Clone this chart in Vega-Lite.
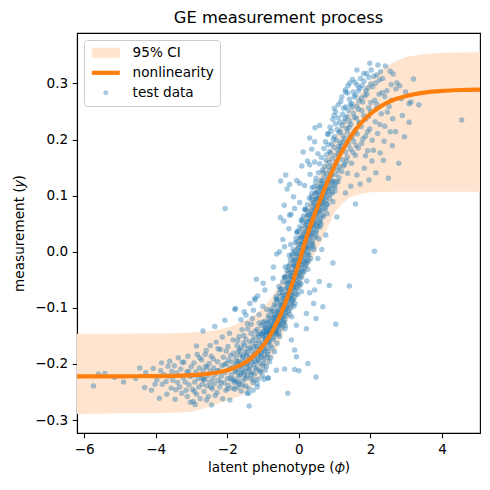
{
  "$schema": "https://vega.github.io/schema/vega-lite/v6.json",
  "width": 403,
  "height": 400,
  "autosize": {"type": "none"},
  "padding": {"left": 77, "top": 33, "right": 10, "bottom": 57},
  "title": {"text": "GE measurement process", "font": "DejaVu Sans", "fontSize": 16.3, "fontWeight": "normal", "color": "black", "anchor": "middle", "offset": 7},
  "datasets": {
    "fit": [
      {"p": -6.2, "y": -0.222, "lo": -0.289, "hi": -0.146},
      {"p": -5.5, "y": -0.222, "lo": -0.2885, "hi": -0.146},
      {"p": -5.0, "y": -0.2219, "lo": -0.288, "hi": -0.1459},
      {"p": -4.5, "y": -0.2218, "lo": -0.2878, "hi": -0.1458},
      {"p": -4.0, "y": -0.2216, "lo": -0.2876, "hi": -0.1456},
      {"p": -3.5, "y": -0.2211, "lo": -0.2871, "hi": -0.1451},
      {"p": -3.0, "y": -0.22, "lo": -0.285, "hi": -0.144},
      {"p": -2.75, "y": -0.2189, "lo": -0.2809, "hi": -0.1429},
      {"p": -2.5, "y": -0.2173, "lo": -0.2753, "hi": -0.1413},
      {"p": -2.25, "y": -0.2148, "lo": -0.2708, "hi": -0.1388},
      {"p": -2.0, "y": -0.2111, "lo": -0.2651, "hi": -0.1351},
      {"p": -1.8, "y": -0.2068, "lo": -0.2608, "hi": -0.1308},
      {"p": -1.6, "y": -0.2009, "lo": -0.2559, "hi": -0.1249},
      {"p": -1.4, "y": -0.1928, "lo": -0.2478, "hi": -0.1188},
      {"p": -1.2, "y": -0.1819, "lo": -0.2349, "hi": -0.1109},
      {"p": -1.0, "y": -0.1674, "lo": -0.2174, "hi": -0.0994},
      {"p": -0.8, "y": -0.1484, "lo": -0.1964, "hi": -0.0844},
      {"p": -0.6, "y": -0.1243, "lo": -0.1703, "hi": -0.0643},
      {"p": -0.4, "y": -0.0946, "lo": -0.1396, "hi": -0.0386},
      {"p": -0.2, "y": -0.0594, "lo": -0.1054, "hi": -0.0064},
      {"p": 0.0, "y": -0.0196, "lo": -0.0696, "hi": 0.0304},
      {"p": 0.2, "y": 0.0231, "lo": -0.0349, "hi": 0.0711},
      {"p": 0.4, "y": 0.0599, "lo": -0.0081, "hi": 0.1059},
      {"p": 0.6, "y": 0.0934, "lo": 0.0154, "hi": 0.1394},
      {"p": 0.8, "y": 0.1249, "lo": 0.0429, "hi": 0.1719},
      {"p": 1.0, "y": 0.1536, "lo": 0.0706, "hi": 0.2016},
      {"p": 1.2, "y": 0.1788, "lo": 0.085, "hi": 0.2288},
      {"p": 1.4, "y": 0.2006, "lo": 0.096, "hi": 0.2516},
      {"p": 1.6, "y": 0.2188, "lo": 0.101, "hi": 0.2718},
      {"p": 1.8, "y": 0.2338, "lo": 0.104, "hi": 0.2898},
      {"p": 2.0, "y": 0.2459, "lo": 0.106, "hi": 0.3069},
      {"p": 2.25, "y": 0.2577, "lo": 0.1068, "hi": 0.3217},
      {"p": 2.5, "y": 0.2666, "lo": 0.107, "hi": 0.3326},
      {"p": 2.75, "y": 0.2731, "lo": 0.107, "hi": 0.3411},
      {"p": 3.0, "y": 0.2778, "lo": 0.107, "hi": 0.3478},
      {"p": 3.5, "y": 0.2837, "lo": 0.107, "hi": 0.3527},
      {"p": 4.0, "y": 0.2868, "lo": 0.107, "hi": 0.3548},
      {"p": 4.5, "y": 0.2884, "lo": 0.107, "hi": 0.3554},
      {"p": 5.06, "y": 0.2892, "lo": 0.107, "hi": 0.3562}
    ],
    "pts": [
      {"p":-5.74,"m":-0.239},{"p":-5.60,"m":-0.218},{"p":-5.42,"m":-0.217},{"p":-4.90,"m":-0.232},{"p":-4.31,"m":-0.242},{"p":-4.28,"m":-0.215},{"p":-4.07,"m":-0.208},{"p":-3.97,"m":-0.228},{"p":-3.90,"m":-0.261},{"p":-3.82,"m":-0.236},
      {"p":-3.76,"m":-0.219},{"p":-3.69,"m":-0.254},{"p":-3.66,"m":-0.204},{"p":-3.61,"m":-0.195},{"p":-3.57,"m":-0.243},{"p":-3.52,"m":-0.229},{"p":-3.48,"m":-0.203},{"p":-3.46,"m":-0.263},{"p":-3.41,"m":-0.216},{"p":-3.37,"m":-0.189},
      {"p":-3.33,"m":-0.241},{"p":-3.30,"m":-0.209},{"p":-3.27,"m":-0.252},{"p":-3.24,"m":-0.224},{"p":-3.21,"m":-0.197},{"p":-3.18,"m":-0.232},{"p":-3.15,"m":-0.247},{"p":-3.13,"m":-0.214},{"p":-3.10,"m":-0.186},{"p":-3.07,"m":-0.237},
      {"p":-3.05,"m":-0.222},{"p":-3.03,"m":-0.268},{"p":-3.01,"m":-0.205},{"p":-4.56,"m":-0.226},{"p":-4.12,"m":-0.247},{"p":-3.86,"m":-0.212},{"p":-3.71,"m":-0.231},{"p":-3.55,"m":-0.213},{"p":-3.39,"m":-0.233},{"p":-3.12,"m":-0.258},
      {"p":-2.99,"m":-0.221},{"p":-2.97,"m":-0.245},{"p":-2.95,"m":-0.267},{"p":-2.93,"m":-0.198},{"p":-2.91,"m":-0.232},{"p":-2.90,"m":-0.272},{"p":-2.88,"m":-0.214},{"p":-2.86,"m":-0.254},{"p":-2.84,"m":-0.183},{"p":-2.82,"m":-0.226},
      {"p":-2.80,"m":-0.241},{"p":-2.78,"m":-0.207},{"p":-2.76,"m":-0.262},{"p":-2.74,"m":-0.219},{"p":-2.72,"m":-0.193},{"p":-2.70,"m":-0.236},{"p":-2.68,"m":-0.141},{"p":-2.67,"m":-0.212},{"p":-2.65,"m":-0.249},{"p":-2.63,"m":-0.228},
      {"p":-2.61,"m":-0.204},{"p":-2.59,"m":-0.176},{"p":-2.57,"m":-0.239},{"p":-2.55,"m":-0.221},{"p":-2.53,"m":-0.258},{"p":-2.51,"m":-0.199},{"p":-2.49,"m":-0.232},{"p":-2.47,"m":-0.213},{"p":-2.45,"m":-0.186},{"p":-2.44,"m":-0.273},
      {"p":-2.42,"m":-0.244},{"p":-2.40,"m":-0.226},{"p":-2.38,"m":-0.207},{"p":-2.36,"m":-0.235},{"p":-2.35,"m":-0.133},{"p":-2.33,"m":-0.218},{"p":-2.31,"m":-0.161},{"p":-2.29,"m":-0.251},{"p":-2.27,"m":-0.196},{"p":-2.25,"m":-0.229},
      {"p":-2.23,"m":-0.212},{"p":-2.21,"m":-0.241},{"p":-2.19,"m":-0.174},{"p":-2.17,"m":-0.222},{"p":-2.15,"m":-0.203},{"p":-2.13,"m":-0.262},{"p":-2.11,"m":-0.188},{"p":-2.09,"m":-0.234},{"p":-2.07,"m":-0.122},{"p":-2.06,"m":-0.215},
      {"p":-2.04,"m":-0.247},{"p":-2.02,"m":-0.199},{"p":-2.00,"m":-0.226},{"p":-1.98,"m":-0.169},{"p":-1.97,"m":-0.238},{"p":-1.95,"m":-0.208},{"p":-1.93,"m":-0.264},{"p":-1.91,"m":-0.185},{"p":-1.89,"m":-0.219},{"p":-1.87,"m":-0.196},
      {"p":-1.86,"m":-0.243},{"p":-1.84,"m":-0.157},{"p":-1.82,"m":-0.227},{"p":-1.81,"m":-0.205},{"p":-1.80,"m":-0.233},{"p":-2.62,"m":-0.183},{"p":-2.48,"m":-0.167},{"p":-2.26,"m":-0.173},{"p":-2.14,"m":-0.152},{"p":-2.58,"m":-0.264},
      {"p":-2.34,"m":-0.256},{"p":-2.03,"m":-0.177},{"p":-1.94,"m":-0.145},{"p":-2.86,"m":-0.168},{"p":-2.71,"m":-0.226},
      {"p":-1.79,"m":-0.103},{"p":-1.78,"m":-0.214},{"p":-1.77,"m":-0.101},{"p":-1.76,"m":-0.188},{"p":-1.75,"m":-0.231},{"p":-1.74,"m":-0.199},{"p":-1.73,"m":-0.167},{"p":-1.72,"m":-0.241},{"p":-1.71,"m":-0.209},{"p":-1.70,"m":-0.178},
      {"p":-1.69,"m":-0.222},{"p":-1.68,"m":-0.195},{"p":-1.67,"m":-0.151},{"p":-1.66,"m":-0.236},{"p":-1.65,"m":-0.204},{"p":-1.64,"m":-0.183},{"p":-1.63,"m":-0.216},{"p":-1.62,"m":-0.171},{"p":-1.61,"m":-0.248},{"p":-1.60,"m":-0.197},
      {"p":-1.59,"m":-0.139},{"p":-1.58,"m":-0.211},{"p":-1.57,"m":-0.186},{"p":-1.56,"m":-0.229},{"p":-1.55,"m":-0.163},{"p":-1.54,"m":-0.201},{"p":-1.53,"m":-0.107},{"p":-1.52,"m":-0.219},{"p":-1.51,"m":-0.178},{"p":-1.50,"m":-0.194},
      {"p":-1.49,"m":-0.239},{"p":-1.48,"m":-0.156},{"p":-1.47,"m":-0.207},{"p":-1.46,"m":-0.185},{"p":-1.45,"m":-0.222},{"p":-1.44,"m":-0.128},{"p":-1.43,"m":-0.198},{"p":-1.42,"m":-0.173},{"p":-1.41,"m":-0.213},{"p":-1.40,"m":-0.252},
      {"p":-1.39,"m":-0.275},{"p":-1.38,"m":-0.189},{"p":-1.37,"m":-0.161},{"p":-1.36,"m":-0.204},{"p":-1.35,"m":-0.226},{"p":-1.34,"m":-0.145},{"p":-1.33,"m":-0.192},{"p":-1.32,"m":-0.177},{"p":-1.31,"m":-0.215},{"p":-1.30,"m":-0.119},
      {"p":-1.29,"m":-0.186},{"p":-1.28,"m":-0.233},{"p":-1.27,"m":-0.169},{"p":-1.26,"m":-0.201},{"p":-1.25,"m":-0.152},{"p":-1.24,"m":-0.218},{"p":-1.23,"m":-0.086},{"p":-1.22,"m":-0.181},{"p":-1.21,"m":-0.196},{"p":-1.20,"m":-0.163},
      {"p":-1.19,"m":-0.049},{"p":-1.18,"m":-0.209},{"p":-1.17,"m":-0.174},{"p":-1.16,"m":-0.138},{"p":-1.15,"m":-0.191},{"p":-1.14,"m":-0.227},{"p":-1.13,"m":-0.158},{"p":-1.12,"m":-0.183},{"p":-1.11,"m":-0.112},{"p":-1.10,"m":-0.199},
      {"p":-1.09,"m":-0.171},{"p":-1.08,"m":-0.146},{"p":-1.07,"m":-0.214},{"p":-1.06,"m":-0.179},{"p":-1.05,"m":-0.131},{"p":-1.04,"m":-0.188},{"p":-1.03,"m":-0.162},{"p":-1.02,"m":-0.203},{"p":-1.01,"m":-0.097},{"p":-1.00,"m":-0.175},
      {"p":-0.99,"m":-0.149},{"p":-0.98,"m":-0.192},{"p":-0.97,"m":-0.166},{"p":-0.96,"m":-0.124},{"p":-0.95,"m":-0.183},{"p":-0.94,"m":-0.211},{"p":-0.93,"m":-0.155},{"p":-0.92,"m":-0.136},{"p":-0.91,"m":-0.172},{"p":-0.90,"m":-0.103},
      {"p":-0.89,"m":-0.189},{"p":-0.88,"m":-0.161},{"p":-0.87,"m":-0.143},{"p":-0.86,"m":-0.225},{"p":-0.85,"m":-0.177},{"p":-0.84,"m":-0.118},{"p":-0.83,"m":-0.158},{"p":-0.82,"m":-0.196},{"p":-0.81,"m":-0.139},{"p":-0.80,"m":-0.167},
      {"p":-1.62,"m":-0.121},{"p":-1.48,"m":-0.113},{"p":-1.37,"m":-0.092},{"p":-1.27,"m":-0.104},{"p":-1.15,"m":-0.079},{"p":-0.95,"m":-0.068},
      {"p":-1.13,"m":-0.147},{"p":-0.99,"m":-0.152},{"p":-0.91,"m":-0.146},{"p":-0.85,"m":-0.154},{"p":-0.78,"m":-0.149},{"p":-0.71,"m":-0.153},{"p":-0.63,"m":-0.148},{"p":-0.54,"m":-0.151},
      {"p":-0.98,"m":-0.142},{"p":-0.92,"m":-0.136},{"p":-0.83,"m":-0.144},{"p":-0.77,"m":-0.139},{"p":-0.70,"m":-0.143},{"p":-0.64,"m":-0.138},{"p":-0.56,"m":-0.141},{"p":-0.39,"m":-0.137},
      {"p":-1.00,"m":-0.126},{"p":-0.78,"m":-0.134},{"p":-0.71,"m":-0.129},{"p":-0.64,"m":-0.133},{"p":-0.58,"m":-0.128},{"p":-0.51,"m":-0.131},{"p":-0.42,"m":-0.127},{"p":-0.38,"m":-0.132},
      {"p":-0.80,"m":-0.124},{"p":-0.73,"m":-0.119},{"p":-0.67,"m":-0.123},{"p":-0.59,"m":-0.118},{"p":-0.54,"m":-0.121},{"p":-0.47,"m":-0.117},{"p":-0.40,"m":-0.122},{"p":-0.20,"m":-0.116},
      {"p":-0.79,"m":-0.107},{"p":-0.69,"m":-0.112},{"p":-0.62,"m":-0.106},{"p":-0.56,"m":-0.114},{"p":-0.49,"m":-0.109},{"p":-0.41,"m":-0.113},{"p":-0.36,"m":-0.108},{"p":-0.26,"m":-0.111},
      {"p":-0.77,"m":-0.102},{"p":-0.65,"m":-0.096},{"p":-0.52,"m":-0.104},{"p":-0.48,"m":-0.099},{"p":-0.39,"m":-0.103},{"p":-0.32,"m":-0.098},{"p":-0.24,"m":-0.101},{"p":-0.14,"m":-0.097},
      {"p":-0.63,"m":-0.086},{"p":-0.53,"m":-0.094},{"p":-0.51,"m":-0.089},{"p":-0.39,"m":-0.093},{"p":-0.31,"m":-0.088},{"p":-0.23,"m":-0.091},{"p":-0.17,"m":-0.087},{"p":-0.11,"m":-0.092},
      {"p":-0.63,"m":-0.084},{"p":-0.49,"m":-0.079},{"p":-0.41,"m":-0.083},{"p":-0.35,"m":-0.078},{"p":-0.28,"m":-0.081},{"p":-0.21,"m":-0.077},{"p":-0.13,"m":-0.082},{"p":-0.04,"m":-0.076},
      {"p":-0.52,"m":-0.067},{"p":-0.46,"m":-0.072},{"p":-0.37,"m":-0.066},{"p":-0.31,"m":-0.074},{"p":-0.24,"m":-0.069},{"p":-0.18,"m":-0.073},{"p":-0.10,"m":-0.068},{"p":0.07,"m":-0.071},
      {"p":-0.56,"m":-0.062},{"p":-0.34,"m":-0.056},{"p":-0.27,"m":-0.064},{"p":-0.20,"m":-0.059},{"p":-0.14,"m":-0.063},{"p":-0.07,"m":-0.058},{"p":0.02,"m":-0.061},{"p":0.06,"m":-0.057},
      {"p":-0.38,"m":-0.046},{"p":-0.31,"m":-0.054},{"p":-0.25,"m":-0.049},{"p":-0.17,"m":-0.053},{"p":-0.12,"m":-0.048},{"p":-0.05,"m":-0.051},{"p":0.02,"m":-0.047},{"p":0.22,"m":-0.052},
      {"p":-0.39,"m":-0.044},{"p":-0.29,"m":-0.039},{"p":-0.22,"m":-0.043},{"p":-0.16,"m":-0.038},{"p":-0.09,"m":-0.041},{"p":-0.01,"m":-0.037},{"p":0.04,"m":-0.042},{"p":0.14,"m":-0.036},
      {"p":-0.38,"m":-0.027},{"p":-0.26,"m":-0.032},{"p":-0.13,"m":-0.026},{"p":-0.09,"m":-0.034},{"p":0.00,"m":-0.029},{"p":0.07,"m":-0.033},{"p":0.15,"m":-0.028},{"p":0.25,"m":-0.031},
      {"p":-0.25,"m":-0.022},{"p":-0.15,"m":-0.016},{"p":-0.13,"m":-0.024},{"p":-0.01,"m":-0.019},{"p":0.07,"m":-0.023},{"p":0.15,"m":-0.018},{"p":0.21,"m":-0.021},{"p":0.27,"m":-0.017},
      {"p":-0.27,"m":-0.006},{"p":-0.13,"m":-0.014},{"p":-0.05,"m":-0.009},{"p":0.02,"m":-0.013},{"p":0.09,"m":-0.008},{"p":0.16,"m":-0.011},{"p":0.24,"m":-0.007},{"p":0.33,"m":-0.012},
      {"p":-0.17,"m":-0.004},{"p":-0.11,"m":0.001},{"p":-0.02,"m":-0.003},{"p":0.04,"m":0.002},{"p":0.11,"m":-0.001},{"p":0.17,"m":0.003},{"p":0.25,"m":-0.002},{"p":0.42,"m":0.004},
      {"p":-0.23,"m":0.013},{"p":-0.01,"m":0.008},{"p":0.07,"m":0.014},{"p":0.14,"m":0.006},{"p":0.20,"m":0.011},{"p":0.27,"m":0.007},{"p":0.36,"m":0.012},{"p":0.40,"m":0.009},
      {"p":-0.05,"m":0.018},{"p":0.03,"m":0.024},{"p":0.09,"m":0.016},{"p":0.17,"m":0.021},{"p":0.22,"m":0.017},{"p":0.29,"m":0.022},{"p":0.36,"m":0.019},{"p":0.56,"m":0.023},
      {"p":-0.06,"m":0.034},{"p":0.05,"m":0.026},{"p":0.12,"m":0.031},{"p":0.18,"m":0.027},{"p":0.25,"m":0.032},{"p":0.33,"m":0.029},{"p":0.38,"m":0.033},{"p":0.48,"m":0.028},
      {"p":-0.04,"m":0.036},{"p":0.08,"m":0.041},{"p":0.21,"m":0.037},{"p":0.25,"m":0.042},{"p":0.34,"m":0.039},{"p":0.41,"m":0.043},{"p":0.49,"m":0.038},{"p":0.59,"m":0.044},
      {"p":0.10,"m":0.053},{"p":0.20,"m":0.048},{"p":0.22,"m":0.054},{"p":0.34,"m":0.046},{"p":0.42,"m":0.051},{"p":0.50,"m":0.047},{"p":0.56,"m":0.052},{"p":0.62,"m":0.049},
      {"p":0.09,"m":0.058},{"p":0.23,"m":0.064},{"p":0.31,"m":0.056},{"p":0.37,"m":0.061},{"p":0.44,"m":0.057},{"p":0.51,"m":0.062},{"p":0.59,"m":0.059},{"p":0.68,"m":0.063},
      {"p":0.20,"m":0.074},{"p":0.26,"m":0.066},{"p":0.35,"m":0.071},{"p":0.41,"m":0.067},{"p":0.48,"m":0.072},{"p":0.54,"m":0.069},{"p":0.62,"m":0.073},{"p":0.79,"m":0.068},
      {"p":0.16,"m":0.076},{"p":0.38,"m":0.081},{"p":0.45,"m":0.077},{"p":0.52,"m":0.082},{"p":0.58,"m":0.079},{"p":0.65,"m":0.083},{"p":0.74,"m":0.078},{"p":0.78,"m":0.084},
      {"p":0.35,"m":0.093},{"p":0.42,"m":0.088},{"p":0.48,"m":0.094},{"p":0.56,"m":0.086},{"p":0.61,"m":0.091},{"p":0.68,"m":0.087},{"p":0.75,"m":0.092},{"p":0.95,"m":0.089},
      {"p":0.35,"m":0.098},{"p":0.45,"m":0.104},{"p":0.52,"m":0.096},{"p":0.58,"m":0.101},{"p":0.65,"m":0.097},{"p":0.73,"m":0.102},{"p":0.78,"m":0.099},{"p":0.88,"m":0.103},
      {"p":0.37,"m":0.114},{"p":0.49,"m":0.106},{"p":0.62,"m":0.111},{"p":0.66,"m":0.107},{"p":0.75,"m":0.112},{"p":0.82,"m":0.109},{"p":0.90,"m":0.113},{"p":1.00,"m":0.108},
      {"p":0.52,"m":0.116},{"p":0.62,"m":0.121},{"p":0.64,"m":0.117},{"p":0.76,"m":0.122},{"p":0.84,"m":0.119},{"p":0.92,"m":0.123},{"p":0.98,"m":0.118},{"p":1.04,"m":0.124},
      {"p":0.48,"m":0.131},{"p":0.62,"m":0.127},{"p":0.71,"m":0.134},{"p":0.80,"m":0.129},{"p":0.88,"m":0.136},{"p":0.97,"m":0.126},{"p":1.12,"m":0.132},
      {"p":0.55,"m":0.141},{"p":0.66,"m":0.146},{"p":0.78,"m":0.139},{"p":0.86,"m":0.144},{"p":0.94,"m":0.148},{"p":1.03,"m":0.138},{"p":1.19,"m":0.143},{"p":1.36,"m":0.140},
      {"p":0.58,"m":0.157},{"p":0.72,"m":0.152},{"p":0.84,"m":0.159},{"p":0.95,"m":0.154},{"p":1.04,"m":0.161},{"p":1.13,"m":0.151},{"p":1.28,"m":0.156},{"p":1.47,"m":0.158},
      {"p":0.63,"m":0.168},{"p":0.77,"m":0.173},{"p":0.91,"m":0.166},{"p":1.01,"m":0.171},{"p":1.10,"m":0.175},{"p":1.21,"m":0.164},{"p":1.35,"m":0.169},{"p":1.58,"m":0.172},
      {"p":0.70,"m":0.184},{"p":0.85,"m":0.179},{"p":0.98,"m":0.186},{"p":1.09,"m":0.181},{"p":1.18,"m":0.188},{"p":1.30,"m":0.178},{"p":1.44,"m":0.183},{"p":1.66,"m":0.185},{"p":1.92,"m":0.180},
      {"p":0.74,"m":0.196},{"p":0.92,"m":0.192},{"p":1.05,"m":0.199},{"p":1.16,"m":0.194},{"p":1.27,"m":0.201},{"p":1.39,"m":0.191},{"p":1.53,"m":0.197},{"p":1.75,"m":0.193},{"p":2.05,"m":0.199},
      {"p":0.81,"m":0.209},{"p":0.99,"m":0.205},{"p":1.12,"m":0.212},{"p":1.24,"m":0.207},{"p":1.36,"m":0.214},{"p":1.48,"m":0.204},{"p":1.63,"m":0.210},{"p":1.86,"m":0.206},{"p":2.20,"m":0.211},
      {"p":0.87,"m":0.222},{"p":1.07,"m":0.218},{"p":1.20,"m":0.225},{"p":1.33,"m":0.220},{"p":1.45,"m":0.227},{"p":1.58,"m":0.217},{"p":1.74,"m":0.223},{"p":1.98,"m":0.219},{"p":2.40,"m":0.224},
      {"p":0.95,"m":0.236},{"p":1.14,"m":0.231},{"p":1.29,"m":0.238},{"p":1.42,"m":0.233},{"p":1.55,"m":0.240},{"p":1.69,"m":0.230},{"p":1.86,"m":0.236},{"p":2.13,"m":0.232},{"p":2.62,"m":0.237},
      {"p":1.03,"m":0.249},{"p":1.22,"m":0.245},{"p":1.38,"m":0.252},{"p":1.52,"m":0.247},{"p":1.66,"m":0.254},{"p":1.81,"m":0.243},{"p":2.00,"m":0.250},{"p":2.30,"m":0.246},
      {"p":1.10,"m":0.262},{"p":1.31,"m":0.258},{"p":1.47,"m":0.265},{"p":1.62,"m":0.260},{"p":1.78,"m":0.267},{"p":1.95,"m":0.257},{"p":2.18,"m":0.263},{"p":2.52,"m":0.259},{"p":3.08,"m":0.264},
      {"p":1.20,"m":0.276},{"p":1.41,"m":0.272},{"p":1.58,"m":0.279},{"p":1.74,"m":0.274},{"p":1.90,"m":0.281},{"p":2.12,"m":0.270},{"p":2.40,"m":0.277},{"p":2.86,"m":0.273},
      {"p":1.30,"m":0.289},{"p":1.52,"m":0.285},{"p":1.70,"m":0.292},{"p":1.87,"m":0.287},{"p":2.06,"m":0.294},{"p":2.33,"m":0.284},{"p":2.71,"m":0.290},
      {"p":1.42,"m":0.301},{"p":1.63,"m":0.297},{"p":1.82,"m":0.304},{"p":2.01,"m":0.299},{"p":2.25,"m":0.306},{"p":2.58,"m":0.298},{"p":3.20,"m":0.308},
      {"p":1.50,"m":0.307},{"p":1.81,"m":0.318},{"p":2.02,"m":0.324},{"p":2.09,"m":0.313},{"p":2.42,"m":0.331},{"p":2.28,"m":0.321},{"p":1.95,"m":0.311},
      {"p":1.62,"m":0.137},{"p":1.83,"m":0.149},{"p":2.04,"m":0.162},{"p":2.27,"m":0.176},{"p":2.50,"m":0.131},{"p":2.61,"m":0.189},{"p":2.79,"m":0.158},{"p":2.95,"m":0.205},{"p":3.08,"m":0.231},
      {"p":1.71,"m":0.121},{"p":2.15,"m":0.141},{"p":2.38,"m":0.197},{"p":2.70,"m":0.214},{"p":1.96,"m":0.128},{"p":1.58,"m":0.085},{"p":1.06,"m":0.062},{"p":1.30,"m":0.105},{"p":1.45,"m":0.117},
      {"p":4.55,"m":0.235},{"p":2.11,"m":0.001},{"p":1.41,"m":-0.061},{"p":0.53,"m":-0.012},{"p":0.64,"m":0.004},{"p":0.67,"m":-0.098},{"p":0.57,"m":-0.053},{"p":0.30,"m":-0.073},{"p":0.44,"m":-0.068},{"p":0.48,"m":-0.119},
      {"p":0.21,"m":-0.137},{"p":-0.07,"m":-0.131},{"p":-0.12,"m":-0.175},{"p":-0.07,"m":-0.187},{"p":0.00,"m":-0.212},{"p":-0.12,"m":-0.210},{"p":-0.40,"m":-0.209},{"p":-0.63,"m":-0.211},{"p":-0.86,"m":-0.225},{"p":0.25,"m":-0.199},
      {"p":0.48,"m":-0.223},{"p":-0.21,"m":-0.157},{"p":0.21,"m":-0.110},{"p":0.41,"m":-0.092},{"p":-0.31,"m":-0.252},{"p":-2.06,"m":0.077},{"p":1.03,"m":-0.129},{"p":0.85,"m":-0.060},{"p":0.95,"m":-0.020},{"p":0.75,"m":0.030},
      {"p":0.30,"m":0.203},{"p":0.44,"m":0.196},{"p":0.08,"m":0.153},{"p":-0.37,"m":0.137},{"p":-0.51,"m":0.126},{"p":-0.26,"m":0.120},{"p":0.99,"m":0.256},{"p":0.81,"m":0.211},{"p":1.30,"m":0.285},{"p":0.45,"m":0.221},
      {"p":0.58,"m":0.225},{"p":-0.52,"m":0.061},{"p":-0.41,"m":0.083},{"p":-0.33,"m":0.112},{"p":-0.22,"m":0.067},{"p":-0.15,"m":0.098},{"p":-0.06,"m":0.127},{"p":0.02,"m":0.088},{"p":0.16,"m":0.118},{"p":0.24,"m":0.162},
      {"p":0.31,"m":0.138},{"p":-0.28,"m":0.041},{"p":-0.45,"m":0.022},{"p":-0.62,"m":-0.004},{"p":-0.71,"m":-0.027},{"p":0.12,"m":0.178},{"p":0.36,"m":0.183},{"p":-0.42,"m":0.055},{"p":-0.54,"m":0.000},{"p":-0.40,"m":0.009},
      {"p":-0.26,"m":0.065},{"p":-0.12,"m":0.077},{"p":0.02,"m":0.122},{"p":0.30,"m":0.155},{"p":0.44,"m":0.160},{"p":0.53,"m":0.175},{"p":-0.72,"m":-0.047},{"p":-1.00,"m":-0.056},{"p":-0.63,"m":-0.080},{"p":-1.23,"m":-0.083},
      {"p":-1.97,"m":-0.193},{"p":-1.92,"m":-0.226},{"p":-1.88,"m":-0.207},{"p":-1.83,"m":-0.181},{"p":-1.79,"m":-0.245},{"p":-1.76,"m":-0.213},{"p":-1.73,"m":-0.196},{"p":-1.69,"m":-0.232},{"p":-1.66,"m":-0.174},{"p":-1.64,"m":-0.219},
      {"p":-1.61,"m":-0.203},{"p":-1.58,"m":-0.238},{"p":-1.56,"m":-0.188},{"p":-1.53,"m":-0.214},{"p":-1.51,"m":-0.167},{"p":-1.49,"m":-0.226},{"p":-1.46,"m":-0.199},{"p":-1.44,"m":-0.181},{"p":-1.41,"m":-0.243},{"p":-1.39,"m":-0.208},
      {"p":-1.36,"m":-0.171},{"p":-1.34,"m":-0.219},{"p":-1.31,"m":-0.196},{"p":-1.29,"m":-0.158},{"p":-1.26,"m":-0.228},{"p":-1.24,"m":-0.186},{"p":-1.21,"m":-0.207},{"p":-1.19,"m":-0.169},{"p":-1.17,"m":-0.235},{"p":-1.14,"m":-0.193},
      {"p":-1.12,"m":-0.151},{"p":-1.09,"m":-0.212},{"p":-1.07,"m":-0.184},{"p":-1.05,"m":-0.166},{"p":-1.02,"m":-0.221},{"p":-1.00,"m":-0.142},{"p":-0.98,"m":-0.199},{"p":-0.96,"m":-0.176},{"p":-0.93,"m":-0.157},{"p":-0.91,"m":-0.204},
      {"p":-0.89,"m":-0.128},{"p":-0.87,"m":-0.183},{"p":-0.84,"m":-0.162},{"p":-0.82,"m":-0.146},{"p":-0.79,"m":-0.189},{"p":-0.77,"m":-0.131},{"p":-0.75,"m":-0.171},{"p":-0.72,"m":-0.157},{"p":-0.70,"m":-0.116},{"p":-0.68,"m":-0.178},
      {"p":-0.66,"m":-0.141},{"p":-0.63,"m":-0.126},{"p":-0.61,"m":-0.163},{"p":-0.59,"m":-0.109},{"p":-0.57,"m":-0.146},{"p":-0.55,"m":-0.131},{"p":-1.71,"m":-0.158},{"p":-1.54,"m":-0.149},{"p":-1.43,"m":-0.137},{"p":-1.33,"m":-0.129},
      {"p":-1.22,"m":-0.141},{"p":-1.11,"m":-0.127},{"p":-1.45,"m":-0.252},{"p":-1.28,"m":-0.247},{"p":-1.16,"m":-0.241},{"p":-0.97,"m":-0.227},{"p":-1.86,"m":-0.229},{"p":-1.99,"m":-0.244},{"p":-2.08,"m":-0.201},{"p":-2.18,"m":-0.233},
      {"p":-2.28,"m":-0.212},{"p":-2.39,"m":-0.191},{"p":-2.46,"m":-0.241},{"p":-2.56,"m":-0.206},{"p":-2.66,"m":-0.227},{"p":-2.77,"m":-0.189},{"p":-2.92,"m":-0.249},{"p":-3.08,"m":-0.214},{"p":-3.26,"m":-0.197},{"p":-3.44,"m":-0.246},
      {"p":-3.63,"m":-0.222},{"p":-3.84,"m":-0.198},{"p":-4.02,"m":-0.236},{"p":-4.45,"m":-0.207},{"p":-5.15,"m":-0.224},
      {"p":-1.02,"m":-0.146},{"p":-0.90,"m":-0.144},{"p":-0.81,"m":-0.147},{"p":-0.74,"m":-0.143},{"p":-0.66,"m":-0.145},
      {"p":-0.95,"m":-0.134},{"p":-0.80,"m":-0.136},{"p":-0.72,"m":-0.133},{"p":-0.63,"m":-0.137},{"p":-0.50,"m":-0.135},
      {"p":-0.86,"m":-0.126},{"p":-0.69,"m":-0.124},{"p":-0.60,"m":-0.127},{"p":-0.53,"m":-0.123},{"p":-0.44,"m":-0.125},
      {"p":-0.85,"m":-0.114},{"p":-0.66,"m":-0.116},{"p":-0.55,"m":-0.113},{"p":-0.48,"m":-0.117},{"p":-0.35,"m":-0.115},
      {"p":-0.72,"m":-0.106},{"p":-0.58,"m":-0.104},{"p":-0.46,"m":-0.107},{"p":-0.40,"m":-0.103},{"p":-0.29,"m":-0.105},
      {"p":-0.69,"m":-0.094},{"p":-0.50,"m":-0.096},{"p":-0.43,"m":-0.093},{"p":-0.34,"m":-0.097},{"p":-0.21,"m":-0.095},
      {"p":-0.60,"m":-0.086},{"p":-0.45,"m":-0.084},{"p":-0.36,"m":-0.087},{"p":-0.27,"m":-0.083},{"p":-0.18,"m":-0.085},
      {"p":-0.55,"m":-0.074},{"p":-0.41,"m":-0.076},{"p":-0.29,"m":-0.073},{"p":-0.22,"m":-0.077},{"p":-0.08,"m":-0.075},
      {"p":-0.49,"m":-0.066},{"p":-0.33,"m":-0.064},{"p":-0.25,"m":-0.067},{"p":-0.16,"m":-0.063},{"p":-0.05,"m":-0.065},
      {"p":-0.45,"m":-0.054},{"p":-0.30,"m":-0.056},{"p":-0.19,"m":-0.053},{"p":-0.11,"m":-0.057},{"p":0.01,"m":-0.055},
      {"p":-0.41,"m":-0.046},{"p":-0.24,"m":-0.044},{"p":-0.15,"m":-0.047},{"p":-0.06,"m":-0.043},{"p":0.08,"m":-0.045},
      {"p":-0.33,"m":-0.034},{"p":-0.20,"m":-0.036},{"p":-0.10,"m":-0.033},{"p":-0.02,"m":-0.037},{"p":0.11,"m":-0.035},
      {"p":-0.30,"m":-0.026},{"p":-0.14,"m":-0.024},{"p":-0.05,"m":-0.027},{"p":0.04,"m":-0.023},{"p":0.18,"m":-0.025},
      {"p":-0.24,"m":-0.014},{"p":-0.09,"m":-0.016},{"p":0.01,"m":-0.013},{"p":0.10,"m":-0.017},{"p":0.22,"m":-0.015},
      {"p":-0.20,"m":-0.006},{"p":-0.06,"m":-0.004},{"p":0.05,"m":-0.007},{"p":0.13,"m":-0.003},{"p":0.28,"m":-0.005},
      {"p":-0.16,"m":0.004},{"p":-0.02,"m":0.006},{"p":0.10,"m":0.003},{"p":0.19,"m":0.007},{"p":0.31,"m":0.005},
      {"p":-0.10,"m":0.016},{"p":0.04,"m":0.014},{"p":0.15,"m":0.017},{"p":0.24,"m":0.013},{"p":0.38,"m":0.015},
      {"p":-0.08,"m":0.024},{"p":0.09,"m":0.026},{"p":0.19,"m":0.023},{"p":0.28,"m":0.027},{"p":0.44,"m":0.025},
      {"p":-0.03,"m":0.036},{"p":0.13,"m":0.034},{"p":0.24,"m":0.037},{"p":0.33,"m":0.033},{"p":0.47,"m":0.035},
      {"p":0.02,"m":0.044},{"p":0.18,"m":0.046},{"p":0.30,"m":0.043},{"p":0.39,"m":0.047},{"p":0.53,"m":0.045},
      {"p":0.06,"m":0.056},{"p":0.24,"m":0.054},{"p":0.35,"m":0.057},{"p":0.45,"m":0.053},{"p":0.60,"m":0.055},
      {"p":0.13,"m":0.064},{"p":0.29,"m":0.066},{"p":0.41,"m":0.063},{"p":0.50,"m":0.067},{"p":0.66,"m":0.065},
      {"p":0.18,"m":0.076},{"p":0.34,"m":0.074},{"p":0.47,"m":0.077},{"p":0.57,"m":0.073},{"p":0.72,"m":0.075},
      {"p":0.24,"m":0.084},{"p":0.40,"m":0.086},{"p":0.53,"m":0.083},{"p":0.63,"m":0.087},{"p":0.80,"m":0.085},
      {"p":0.29,"m":0.096},{"p":0.47,"m":0.094},{"p":0.59,"m":0.097},{"p":0.69,"m":0.093},{"p":0.86,"m":0.095},
      {"p":0.36,"m":0.104},{"p":0.52,"m":0.106},{"p":0.65,"m":0.103},{"p":0.75,"m":0.107},{"p":0.93,"m":0.105},
      {"p":0.42,"m":0.116},{"p":0.58,"m":0.114},{"p":0.72,"m":0.117},{"p":0.83,"m":0.113},{"p":1.01,"m":0.115},
      {"p":0.47,"m":0.124},{"p":0.65,"m":0.126},{"p":0.79,"m":0.123},{"p":0.90,"m":0.127},{"p":1.09,"m":0.125},
      {"p":0.69,"m":0.142},{"p":0.83,"m":0.151},{"p":0.92,"m":0.137},{"p":1.08,"m":0.146},{"p":1.24,"m":0.153},{"p":0.76,"m":0.163},{"p":0.89,"m":0.176},{"p":1.06,"m":0.158},{"p":1.17,"m":0.182},{"p":1.33,"m":0.162},
      {"p":1.51,"m":0.177},{"p":0.82,"m":0.191},{"p":0.96,"m":0.201},{"p":1.11,"m":0.188},{"p":1.22,"m":0.196},{"p":1.41,"m":0.205},{"p":1.60,"m":0.189},{"p":1.79,"m":0.201},{"p":0.90,"m":0.215},{"p":1.02,"m":0.228},
      {"p":1.16,"m":0.215},{"p":1.27,"m":0.232},{"p":1.40,"m":0.222},{"p":1.54,"m":0.212},{"p":1.69,"m":0.229},{"p":1.92,"m":0.214},{"p":2.26,"m":0.227},{"p":0.98,"m":0.243},{"p":1.10,"m":0.239},{"p":1.25,"m":0.256},
      {"p":1.35,"m":0.241},{"p":1.49,"m":0.258},{"p":1.61,"m":0.238},{"p":1.76,"m":0.252},{"p":1.94,"m":0.241},{"p":2.17,"m":0.255},{"p":2.47,"m":0.249},{"p":1.17,"m":0.268},{"p":1.36,"m":0.283},{"p":1.44,"m":0.262},
      {"p":1.55,"m":0.276},{"p":1.68,"m":0.269},{"p":1.84,"m":0.278},{"p":2.01,"m":0.266},{"p":2.24,"m":0.281},{"p":2.58,"m":0.270},{"p":1.37,"m":0.296},{"p":1.57,"m":0.302},{"p":1.66,"m":0.287},{"p":1.77,"m":0.296},
      {"p":1.93,"m":0.292},{"p":2.15,"m":0.301},{"p":2.46,"m":0.287},{"p":2.82,"m":0.296},{"p":1.72,"m":0.309},{"p":1.89,"m":0.318},{"p":2.17,"m":0.315},{"p":2.34,"m":0.309},{"p":2.63,"m":0.317},{"p":2.98,"m":0.285},
      {"p":3.13,"m":0.267},{"p":2.55,"m":0.214},{"p":2.36,"m":0.163},{"p":2.08,"m":0.181},{"p":1.86,"m":0.171},{"p":2.89,"m":0.243},{"p":3.35,"m":0.262},{"p":2.74,"m":0.301},{"p":1.62,"m":0.324},{"p":2.21,"m":0.333},
      {"p":1.98,"m":0.336},{"p":2.55,"m":0.322}
    ]
  },
  "layer": [
    {
      "data": {"name": "fit"},
      "mark": {"type": "area", "clip": true},
      "encoding": {
        "x": {"field": "p", "type": "quantitative", "scale": {"domain": [-6.2, 5.06], "nice": false, "zero": false},
              "axis": {"values": [-6, -4, -2, 0, 2, 4], "format": "d", "title": "latent phenotype (𝜙)"}},
        "y": {"field": "lo", "type": "quantitative", "scale": {"domain": [-0.323, 0.39], "nice": false, "zero": false},
              "axis": {"values": [-0.3, -0.2, -0.1, 0, 0.1, 0.2, 0.3], "format": ".1f", "title": "measurement (𝑦)"}},
        "y2": {"field": "hi"},
        "color": {
          "datum": "95% CI",
          "scale": {"domain": ["95% CI", "nonlinearity", "test data"], "range": ["#ffe5cf", "#ff7f0e", "#1f77b4"]},
          "legend": {
            "title": null,
            "orient": "top-left",
            "offset": 7,
            "padding": 6,
            "symbolSize": 100,
            "labelOffset": 29,
            "rowPadding": 5,
            "encode": {
              "symbols": {
                "update": {
                  "shape": [
                    {"test": "datum.value === '95% CI'", "value": "M-1,-1H4.6V1H-1Z"},
                    {"test": "datum.value === 'nonlinearity'", "value": "M-1,-0.42H4.6V0.42H-1Z"},
                    {"value": "M1.3,0A0.5,0.5 0 1,1 2.3,0A0.5,0.5 0 1,1 1.3,0Z"}
                  ],
                  "size": {"value": 100},
                  "fill": [
                    {"test": "datum.value === '95% CI'", "value": "#ffe5cf"},
                    {"test": "datum.value === 'nonlinearity'", "value": "#ff7f0e"},
                    {"value": "#1f77b4"}
                  ],
                  "fillOpacity": [
                    {"test": "datum.value === 'test data'", "value": 0.4},
                    {"value": 1}
                  ],
                  "opacity": {"value": 1},
                  "stroke": {"value": "transparent"},
                  "strokeWidth": {"value": 0}
                }
              }
            }
          }
        }
      }
    },
    {
      "data": {"name": "pts"},
      "mark": {"type": "circle", "size": 30, "opacity": 0.4, "clip": true},
      "encoding": {
        "x": {"field": "p", "type": "quantitative"},
        "y": {"field": "m", "type": "quantitative"},
        "color": {"datum": "test data"}
      }
    },
    {
      "data": {"name": "fit"},
      "mark": {"type": "line", "strokeWidth": 4.2, "interpolate": "monotone", "clip": true},
      "encoding": {
        "x": {"field": "p", "type": "quantitative"},
        "y": {"field": "y", "type": "quantitative"},
        "color": {"datum": "nonlinearity"}
      }
    }
  ],
  "config": {
    "font": "DejaVu Sans",
    "view": {"stroke": "black", "strokeWidth": 1.1},
    "axis": {
      "grid": false,
      "domain": true,
      "domainColor": "black",
      "domainWidth": 1.1,
      "tickColor": "black",
      "tickWidth": 1.1,
      "tickSize": 4.8,
      "labelPadding": 4.5,
      "labelFont": "DejaVu Sans",
      "labelFontSize": 13.6,
      "labelColor": "black",
      "titleFont": "DejaVu Sans",
      "titleFontSize": 13.6,
      "titleFontWeight": "normal",
      "titleColor": "black"
    },
    "axisX": {"titlePadding": 5},
    "axisY": {"titlePadding": 8},
    "legend": {
      "labelFont": "DejaVu Sans",
      "labelFontSize": 13.6,
      "labelColor": "black",
      "fillColor": "rgba(255,255,255,0.8)",
      "strokeColor": "#cccccc",
      "cornerRadius": 3
    }
  }
}
